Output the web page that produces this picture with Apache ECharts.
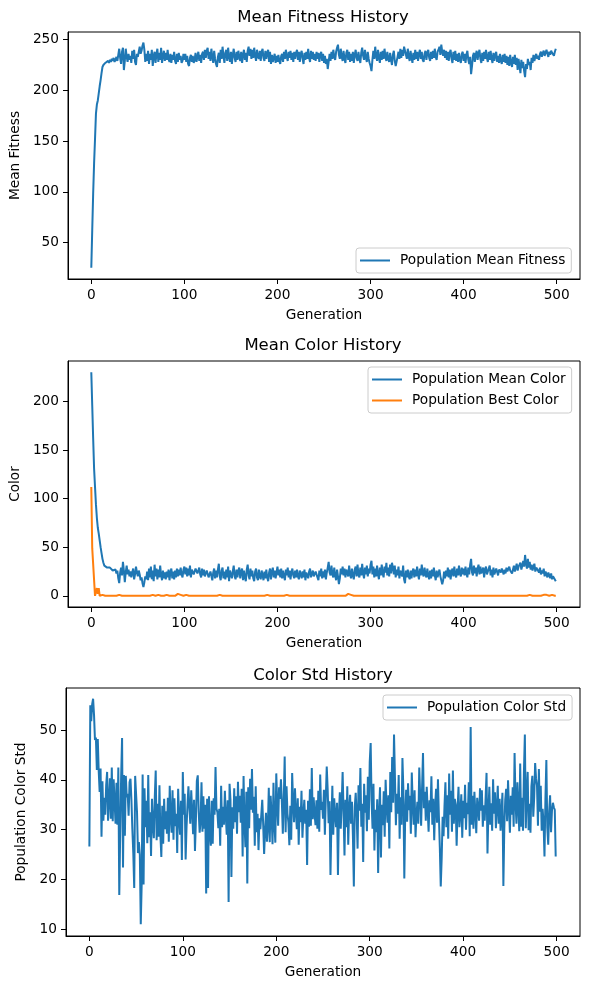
<!DOCTYPE html>
<html>
<head>
<meta charset="utf-8">
<script src="https://cdn.jsdelivr.net/npm/echarts@6/dist/echarts.min.js"></script>
<style>
html,body{margin:0;padding:0;background:#fff;}
#chart{width:590px;height:989px;}
</style>
</head>
<body>
<div id="chart"></div>
<script>
// one value per generation
var meanFitness = [
25,62,98,128,152,177,186,190,197,204,210,217,223,225,224,227,226,228,229,227,
230,228,231,229,232,228,230,233,229,235,241,232,226,238,242,220,229,241,233,228,
236,230,234,227,239,231,240,228,225,236,233,238,243,236,239,244,247,240,228,236,
229,239,226,236,230,240,224,234,238,227,236,241,228,237,230,242,227,234,239,229,
237,230,240,231,228,236,227,235,230,238,229,226,236,228,237,230,234,227,229,236,
230,236,228,234,226,224,232,235,228,234,227,230,237,228,233,238,229,235,227,236,
238,230,240,232,239,242,231,238,229,241,233,227,239,231,226,223,233,237,227,240,
231,243,234,227,237,240,229,242,233,228,238,226,235,241,232,228,238,230,239,233,
229,238,227,235,240,230,237,228,239,243,234,241,231,240,232,242,234,229,240,233,
231,239,229,238,241,232,229,239,231,237,240,228,238,226,235,228,229,236,227,234,
228,235,229,226,234,236,228,238,231,240,233,229,238,232,239,230,237,228,238,231,
237,240,230,238,228,236,239,231,226,237,230,238,231,241,232,228,239,231,238,230,
236,229,238,231,237,228,235,238,229,236,227,234,226,231,221,228,236,229,238,231,
240,233,230,238,242,245,235,231,241,233,229,239,231,227,237,240,230,238,228,236,
229,238,227,235,240,232,229,238,231,227,237,242,234,230,240,232,228,238,231,227,
224,219,230,239,231,243,234,229,240,232,227,238,230,239,231,241,233,229,238,231,
228,237,230,225,235,239,229,224,223,233,238,231,241,232,240,234,243,244,235,231,
241,233,229,239,232,227,237,230,240,231,238,229,236,240,231,238,230,228,236,239,
230,237,240,232,229,238,231,239,232,241,233,230,238,240,243,235,245,238,234,240,
232,239,230,238,229,237,240,231,227,238,230,239,229,236,228,237,230,227,236,238,
229,236,227,235,239,230,226,233,216,224,234,237,228,235,239,230,236,240,231,227,
237,229,238,231,240,232,228,238,230,239,231,227,237,229,235,238,228,234,227,236,
229,226,235,228,236,227,234,225,233,224,235,227,223,233,226,235,225,232,220,231,
224,217,230,222,228,219,213,226,221,231,225,228,220,232,227,235,229,233,236,231,
234,230,236,238,233,237,239,234,237,240,236,233,238,235,239,237,236,234,238,241
];
var meanColor = [
230,196,162,131,112,94,80,70,64,57,50,44,38,34,31,32,30,29,31,28,
29,27,30,26,28,25,27,23,26,18,13,24,29,21,35,26,14,24,31,22,
27,20,25,19,24,28,17,22,30,24,20,26,22,16,19,13,9,14,20,17,
25,16,28,19,30,17,26,15,32,20,28,17,27,19,31,21,16,26,18,24,
17,25,19,27,16,24,28,18,25,17,26,19,28,20,27,21,29,22,19,27,
30,22,29,20,28,21,31,19,27,29,22,20,28,30,23,21,29,22,19,28,
21,27,20,18,26,28,19,17,25,27,16,24,28,18,26,19,27,33,20,16,
26,29,18,25,17,27,19,30,15,26,28,18,25,31,20,17,27,19,26,29,
18,25,28,16,26,19,15,27,32,21,17,28,20,26,18,15,25,28,19,16,
27,20,17,26,28,16,25,18,27,19,15,24,28,17,25,29,19,26,18,24,
30,21,27,19,28,18,26,20,16,27,21,29,19,26,17,24,28,21,18,26,
19,27,20,17,26,28,18,25,19,27,16,24,26,18,25,28,19,17,26,20,
18,25,27,19,16,26,20,28,18,25,19,27,17,24,29,35,24,21,31,22,
19,29,21,16,27,20,12,18,28,22,30,21,28,19,27,29,20,31,22,18,
28,21,17,27,30,20,32,22,19,29,21,33,23,18,29,22,31,20,28,23,
32,36,22,30,19,28,20,31,22,17,29,21,32,23,19,30,24,34,21,29,
20,32,23,34,29,22,31,19,27,21,30,18,26,28,20,31,17,13,26,19,
27,20,17,26,18,25,28,19,27,20,30,22,17,28,21,32,23,20,29,22,
19,28,21,17,26,18,27,20,29,21,16,26,19,17,27,20,18,12,16,25,
18,26,20,29,19,27,17,25,28,20,30,22,19,28,21,31,23,20,29,22,
28,21,30,23,19,29,22,32,38,24,21,31,23,29,20,28,32,22,30,23,
21,29,19,27,30,22,20,28,31,21,27,19,29,22,20,28,30,21,27,29,
24,28,25,22,27,23,29,25,24,30,26,28,23,27,31,25,29,33,26,30,
28,34,27,31,36,30,42,33,28,38,29,35,27,32,26,30,33,25,29,31,
27,24,29,22,26,23,28,20,25,22,19,24,21,18,23,17,20,22,21,15
];
var bestColor = [
112,49,49,48,0,1,8,2,8,0,0,0,1,0,0,0,0,0,0,0,
0,0,0,0,0,0,0,0,0,0,1,0,0,0,0,0,0,0,0,0,
0,0,0,0,1,0,0,0,0,0,0,0,0,0,0,1,0,0,0,0,
0,0,0,0,0,0,1,0,0,0,0,0,1,0,0,0,0,0,0,0,
0,1,0,0,0,0,0,0,0,0,0,0,1,2,3,2,1,0,0,0,
0,0,1,0,0,0,0,0,0,0,0,0,0,0,0,0,0,0,0,0,
0,0,0,0,0,0,0,0,0,0,0,0,0,0,0,0,1,2,1,0,
0,0,0,0,0,0,0,0,0,0,0,0,0,0,0,0,0,0,0,0,
0,0,0,0,0,0,0,0,0,0,0,0,0,0,0,0,0,0,1,0,
0,0,0,0,0,0,0,0,1,1,0,0,0,0,0,0,0,0,0,0,
0,0,0,0,0,1,0,0,0,0,1,0,0,0,0,0,0,0,0,0,
0,0,0,0,0,0,1,0,0,0,0,0,0,0,0,0,0,0,0,0,
0,0,0,0,0,0,0,0,0,0,0,0,0,0,0,0,0,0,0,0,
0,0,0,0,0,0,0,0,0,0,0,0,0,0,0,1,2,3,2,1,
2,1,0,0,0,0,0,0,0,0,0,0,0,0,0,0,0,0,0,0,
0,0,0,0,0,0,0,0,0,0,0,0,0,0,0,0,0,0,0,0,
0,0,0,0,0,0,1,0,0,0,0,0,0,0,0,0,0,0,0,0,
0,0,0,0,0,0,0,0,0,0,0,0,0,0,0,0,1,0,0,0,
0,0,0,0,0,0,0,0,0,0,0,0,0,0,0,0,0,0,0,0,
0,0,0,0,0,0,0,0,0,0,0,0,0,0,0,0,0,0,0,0,
0,0,0,0,0,0,0,0,0,0,0,0,0,0,0,0,0,0,0,0,
0,0,0,0,0,0,0,0,0,0,0,0,0,0,0,0,0,0,0,0,
0,0,0,0,0,0,0,0,0,0,0,0,0,0,0,0,0,0,0,0,
0,0,0,0,0,0,0,0,0,0,0,1,0,0,0,0,0,0,0,0,
0,0,0,0,0,1,1,0,1,1,1,0,0,1,0,1,0,0,0,0
];
var colorStd = [
26.6,55.0,51.8,55.2,56.3,53.0,48.0,48.5,42.0,48.2,41.8,37.6,42.3,28.6,39.7,31.8,36.4,33.0,39.0,41.6,
31.8,35.8,40.3,32.2,42.5,31.7,40.1,35.6,31.2,39.4,31.0,42.5,16.9,29.3,40.6,48.4,22.4,41.0,28.8,40.8,
36.5,37.2,32.8,39.5,40.2,36.0,30.1,25.3,18.3,40.8,41.0,33.5,25.3,27.5,25.0,11.0,19.2,41.1,19.0,38.3,
30.5,35.8,27.3,41.0,28.5,33.5,24.7,36.2,31.0,28.3,36.6,41.9,27.9,35.2,28.6,38.9,29.0,24.5,34.8,27.2,
36.2,30.1,33.7,29.2,36.4,27.6,38.8,32.5,29.4,37.9,28.0,36.3,30.7,33.2,25.3,38.2,32.4,29.0,35.8,23.9,
41.6,33.0,37.2,24.0,30.6,35.0,38.7,34.5,31.2,37.9,33.8,29.1,36.0,25.7,31.9,39.8,40.9,33.5,29.4,31.7,
39.5,29.6,36.7,30.2,35.0,17.2,36.2,18.3,36.7,29.8,26.8,35.8,27.2,36.3,33.0,42.6,34.2,33.5,30.3,34.2,
26.8,38.8,30.5,34.6,31.0,37.8,32.6,29.0,35.9,15.5,39.2,36.0,20.5,34.5,30.2,38.3,31.5,36.7,29.2,39.6,
33.5,36.8,31.4,38.2,24.6,40.8,31.2,26.5,37.6,19.2,38.5,30.3,40.2,34.0,42.2,33.4,36.6,26.8,38.7,29.5,
33.2,25.9,32.3,30.1,29.8,36.0,31.0,25.1,29.8,33.4,27.6,30.5,38.4,27.5,36.8,32.8,27.1,39.4,31.0,27.4,
41.3,35.2,30.8,38.5,36.2,40.1,35.5,29.2,35.8,44.7,29.5,38.7,33.2,31.4,26.9,34.8,28.0,41.4,35.6,31.5,
38.3,33.7,30.1,36.3,27.0,34.6,31.5,37.8,28.4,32.9,36.0,31.2,34.0,22.9,35.8,30.6,38.1,30.8,42.4,32.1,
36.5,33.1,30.9,35.9,30.2,37.8,29.6,41.1,34.0,35.6,32.2,38.0,29.0,36.4,42.7,38.1,31.3,35.7,20.9,31.5,
38.8,29.0,36.3,33.0,30.5,35.4,20.9,32.8,37.5,30.2,35.4,41.6,33.5,24.8,36.0,30.5,38.7,27.0,34.3,37.0,
31.2,35.6,28.8,18.6,34.6,37.4,33.0,26.2,38.9,33.8,42.4,30.6,35.2,23.5,39.2,33.4,36.9,29.7,40.6,32.0,
43.6,47.4,35.8,30.2,39.2,25.8,34.0,29.5,36.1,21.3,33.3,38.5,24.4,35.0,30.9,37.7,28.6,40.0,35.0,31.4,
36.9,26.2,41.6,33.5,44.6,35.4,49.1,40.4,30.9,37.2,33.2,41.0,28.2,36.5,31.0,44.4,38.1,20.2,33.5,38.0,
31.6,39.3,33.9,36.8,29.2,41.5,35.2,31.0,37.9,28.5,33.0,35.6,31.2,42.5,36.7,30.8,38.4,45.4,34.3,37.6,
31.8,38.6,34.0,29.6,35.9,33.5,40.7,31.0,36.2,27.9,34.8,38.2,31.4,40.1,32.8,26.5,18.6,24.3,32.6,28.7,
34.8,39.5,30.5,36.9,28.2,41.3,33.0,37.8,29.6,41.9,31.2,36.2,35.0,26.8,34.2,38.6,30.5,33.4,37.1,28.4,
35.8,32.3,39.0,30.0,35.4,33.1,39.5,28.7,50.6,31.0,36.8,30.2,37.6,33.5,29.3,36.4,34.4,31.8,38.3,33.8,
37.9,30.6,34.9,31.8,36.4,41.4,25.2,33.7,38.6,31.0,35.3,29.8,40.1,33.2,37.5,30.3,34.5,38.8,31.2,36.2,
29.8,33.6,37.4,18.7,30.3,36.0,38.2,31.7,39.9,34.5,29.4,36.8,33.0,38.5,30.6,45.4,35.6,31.2,39.5,34.7,
29.7,43.3,30.6,36.4,29.8,41.6,49.1,30.3,37.0,41.6,29.9,35.2,29.4,38.7,40.8,32.6,36.5,43.4,40.2,38.8,
30.8,42.2,33.6,38.8,29.8,34.2,31.5,24.6,36.2,44.0,30.4,27.0,33.7,36.9,29.5,33.8,35.4,34.5,34.0,24.6
];

var genTicks = [0, 100, 200, 300, 400, 500];
var fitnessTicks = [50, 100, 150, 200, 250];
var colorTicks = [0, 50, 100, 150, 200];
var stdTicks = [10, 20, 30, 40, 50];

var FONT = 'DejaVu Sans';
var BLUE = '#1f77b4', ORANGE = '#ff7f0e';

function pairs(arr) {
    return arr.map(function (v, i) { return [i, v]; });
}

function xAx(idx) {
    return {
        type: 'value', gridIndex: idx, min: -25, max: 525,
        name: 'Generation', nameLocation: 'middle', nameGap: 29,
        nameTextStyle: {fontSize: 13.7, color: '#000', fontFamily: FONT},
        axisLine: {onZero: false, lineStyle: {color: '#000', width: 1}},
        axisTick: {customValues: genTicks, length: 5, lineStyle: {color: '#000', width: 1}},
        axisLabel: {customValues: genTicks, margin: 9, fontSize: 13.7, color: '#000', fontFamily: FONT},
        splitLine: {show: false}
    };
}

function yAx(idx, name, min, max, ticks, gap) {
    return {
        type: 'value', gridIndex: idx, min: min, max: max,
        name: name, nameLocation: 'middle', nameGap: gap,
        nameTextStyle: {fontSize: 13.7, color: '#000', fontFamily: FONT},
        axisLine: {show: true, onZero: false, lineStyle: {color: '#000', width: 1}},
        axisTick: {show: true, customValues: ticks, length: 5, lineStyle: {color: '#000', width: 1}},
        axisLabel: {customValues: ticks, margin: 9, fontSize: 13.7, color: '#000', fontFamily: FONT},
        splitLine: {show: false}
    };
}

function legendBox(names, left, top) {
    return {
        data: names, orient: 'vertical', left: left, top: top,
        icon: 'rect', itemWidth: 30, itemHeight: 2, itemGap: 6,
        padding: [5, 6, 5, 4],
        borderColor: '#cccccc', borderWidth: 1, borderRadius: 3,
        backgroundColor: 'rgba(255,255,255,0.8)',
        textStyle: {fontSize: 13.7, color: '#000', fontFamily: FONT, lineHeight: 15, padding: [0, 0, 0, 5]}
    };
}

function titleAt(text, top) {
    return {
        text: text, left: 323, top: top, textAlign: 'center', padding: 0,
        textStyle: {fontSize: 16.5, fontWeight: 'normal', color: '#000', fontFamily: FONT}
    };
}

function lineSeries(name, data, color, idx) {
    return {
        name: name, type: 'line', data: pairs(data),
        xAxisIndex: idx, yAxisIndex: idx,
        showSymbol: false, symbol: 'none',
        lineStyle: {color: color, width: 2},
        itemStyle: {color: color}
    };
}

var chart = echarts.init(document.getElementById('chart'), null, {renderer: 'canvas'});
chart.setOption({
    animation: false,
    backgroundColor: '#fff',
    title: [
        titleAt('Mean Fitness History', 9),
        titleAt('Mean Color History', 337),
        titleAt('Color Std History', 667)
    ],
    grid: [
        {left: 66, top: 32, width: 514, height: 247, show: true, borderColor: '#000', borderWidth: 1},
        {left: 66, top: 361, width: 514, height: 246, show: true, borderColor: '#000', borderWidth: 1},
        {left: 66, top: 688, width: 514, height: 248, show: true, borderColor: '#000', borderWidth: 1}
    ],
    xAxis: [xAx(0), xAx(1), xAx(2)],
    yAxis: [
        yAx(0, 'Mean Fitness', 14, 257.5, fitnessTicks, 44),
        yAx(1, 'Color', -11.5, 241.5, colorTicks, 43),
        yAx(2, 'Population Color Std', 8.65, 58.45, stdTicks, 35)
    ],
    legend: [
        legendBox(['Population Mean Fitness'], 356, 248),
        legendBox(['Population Mean Color', 'Population Best Color'], 368, 367),
        legendBox(['Population Color Std'], 383, 695)
    ],
    series: [
        lineSeries('Population Mean Fitness', meanFitness, BLUE, 0),
        lineSeries('Population Mean Color', meanColor, BLUE, 1),
        lineSeries('Population Best Color', bestColor, ORANGE, 1),
        lineSeries('Population Color Std', colorStd, BLUE, 2)
    ]
});
</script>
</body>
</html>
